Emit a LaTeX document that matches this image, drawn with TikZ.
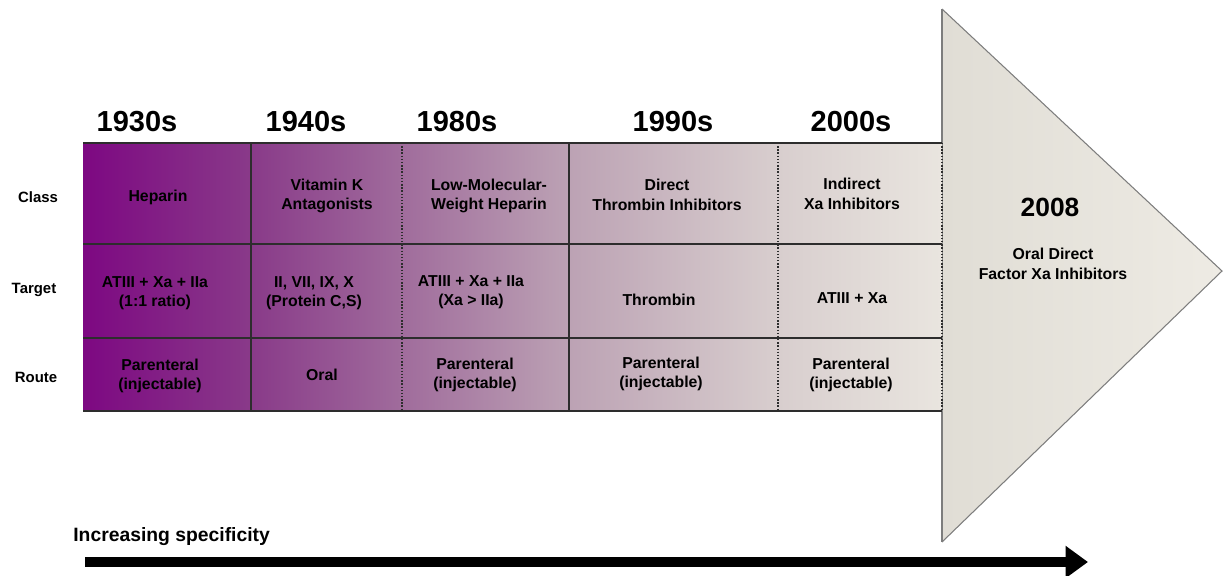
\documentclass[tikz,border=0pt]{standalone}
\usepackage{fontspec}
\setmainfont{Liberation Sans}
\usetikzlibrary{arrows.meta}

\definecolor{shadeA}{RGB}{125,8,130}
\definecolor{shadeB}{RGB}{137,58,137}
\definecolor{shadeC}{RGB}{160,108,156}
\definecolor{shadeD}{RGB}{188,162,180}
\definecolor{shadeE}{RGB}{216,206,206}
\definecolor{shadeF}{RGB}{233,229,223}
\definecolor{gridline}{RGB}{45,45,45}
\definecolor{wedgeline}{RGB}{125,125,125}
\definecolor{wedgeL}{RGB}{224,221,213}
\definecolor{wedgeR}{RGB}{238,235,228}

\tikzset{
	decade/.style={font=\fontsize{16.5}{18}\selectfont\bfseries, inner sep=0pt},
	celltext/.style={font=\fontsize{9}{11}\selectfont\bfseries, align=center, inner sep=0pt},
	rowname/.style={font=\fontsize{8.5}{10}\selectfont\bfseries, inner sep=0pt},
	gridrule/.style={draw=gridline, line width=0.8pt},
}

\begin{document}
\begin{tikzpicture}[x=0.02cm, y=-0.02cm]
		\useasboundingbox (0,0) rectangle (1223,575);
		% wedge for 2008
		\shade[left color=wedgeL, right color=wedgeR] (942,9) -- (1222,271) -- (942,542) -- cycle;
		\draw[wedgeline, line width=0.6pt] (942,9) -- (1222,271) -- (942,542);
		\draw[wedgeline, line width=1.2pt] (942,9) -- (942,542);
		% shaded columns
		\foreach \xa/\xb/\ca/\cb in {83/251/shadeA/shadeB, 251/402/shadeB/shadeC,
			402/569/shadeC/shadeD, 569/778/shadeD/shadeE, 778/942/shadeE/shadeF}
		{
			\shade[left color=\ca, right color=\cb] (\xa,143) rectangle (\xb,411);
		}
		\foreach \y in {143,244,338,411}
		{
			\draw[gridrule] (83,\y) -- (942,\y);
		}
		\foreach \x in {251,569}
		{
			\draw[gridrule] (\x,143) -- (\x,411);
		}
		\foreach \x in {402,778,942}
		{
			\draw[gridrule, densely dotted] (\x,143) -- (\x,411);
		}
		% decades
		\foreach \n/\x/\t in {1/137/1930s, 2/306/1940s, 3/457/1980s, 4/673/1990s, 5/851/2000s}
		{
			\node[decade] (dec\n) at (\x,122) {\t};
		}
		% row names
		\node[rowname] (rowclass) at (38,197) {Class};
		\node[rowname] (rowtarget) at (34,290) {Target};
		\node[rowname] (rowroute) at (36,377) {Route};
		% class row
		\foreach \n/\x/\y/\t in {1/158/197/Heparin, 2/327/196/{Vitamin K\\Antagonists},
			3/489/196/{Low-Molecular-\\Weight Heparin}, 4/667/195/{Direct\\Thrombin Inhibitors},
			5/852/194/{Indirect\\Xa Inhibitors}}
		{
			\node[celltext] (class\n) at (\x,\y) {\t};
		}
		% target row
		\foreach \n/\x/\y/\t in {1/155/293/{ATIII + Xa + IIa\\(1:1 ratio)}, 2/314/293/{II, VII, IX, X\\(Protein C,S)},
			3/471/292/{ATIII + Xa + IIa\\(Xa > IIa)}, 4/659/300/Thrombin,
			5/852/298/{ATIII + Xa}}
		{
			\node[celltext] (target\n) at (\x,\y) {\t};
		}
		% route row
		\foreach \n/\x/\y/\t in {1/160/376/{Parenteral\\(injectable)}, 2/322/375/Oral,
			3/475/375/{Parenteral\\(injectable)}, 4/661/374/{Parenteral\\(injectable)},
			5/851/375/{Parenteral\\(injectable)}}
		{
			\node[celltext] (route\n) at (\x,\y) {\t};
		}
		% 2008
		\node[decade, font=\fontsize{15}{17}\selectfont\bfseries] (dec6) at (1050,207) {2008};
		\node[celltext] (class6) at (1053,264) {Oral Direct\\Factor Xa Inhibitors};
		% specificity arrow
		\node[font=\fontsize{11}{13}\selectfont\bfseries, anchor=west, inner sep=0pt] (spectext) at (73,537) {Increasing specificity};
		\coordinate (specstart) at (85,562);
		\coordinate (specend) at (1088,562);
		\draw[line width=0.2cm, -{Triangle[length=0.45cm, width=0.62cm]}] (specstart) -- (specend);
	\end{tikzpicture}
\end{document}
